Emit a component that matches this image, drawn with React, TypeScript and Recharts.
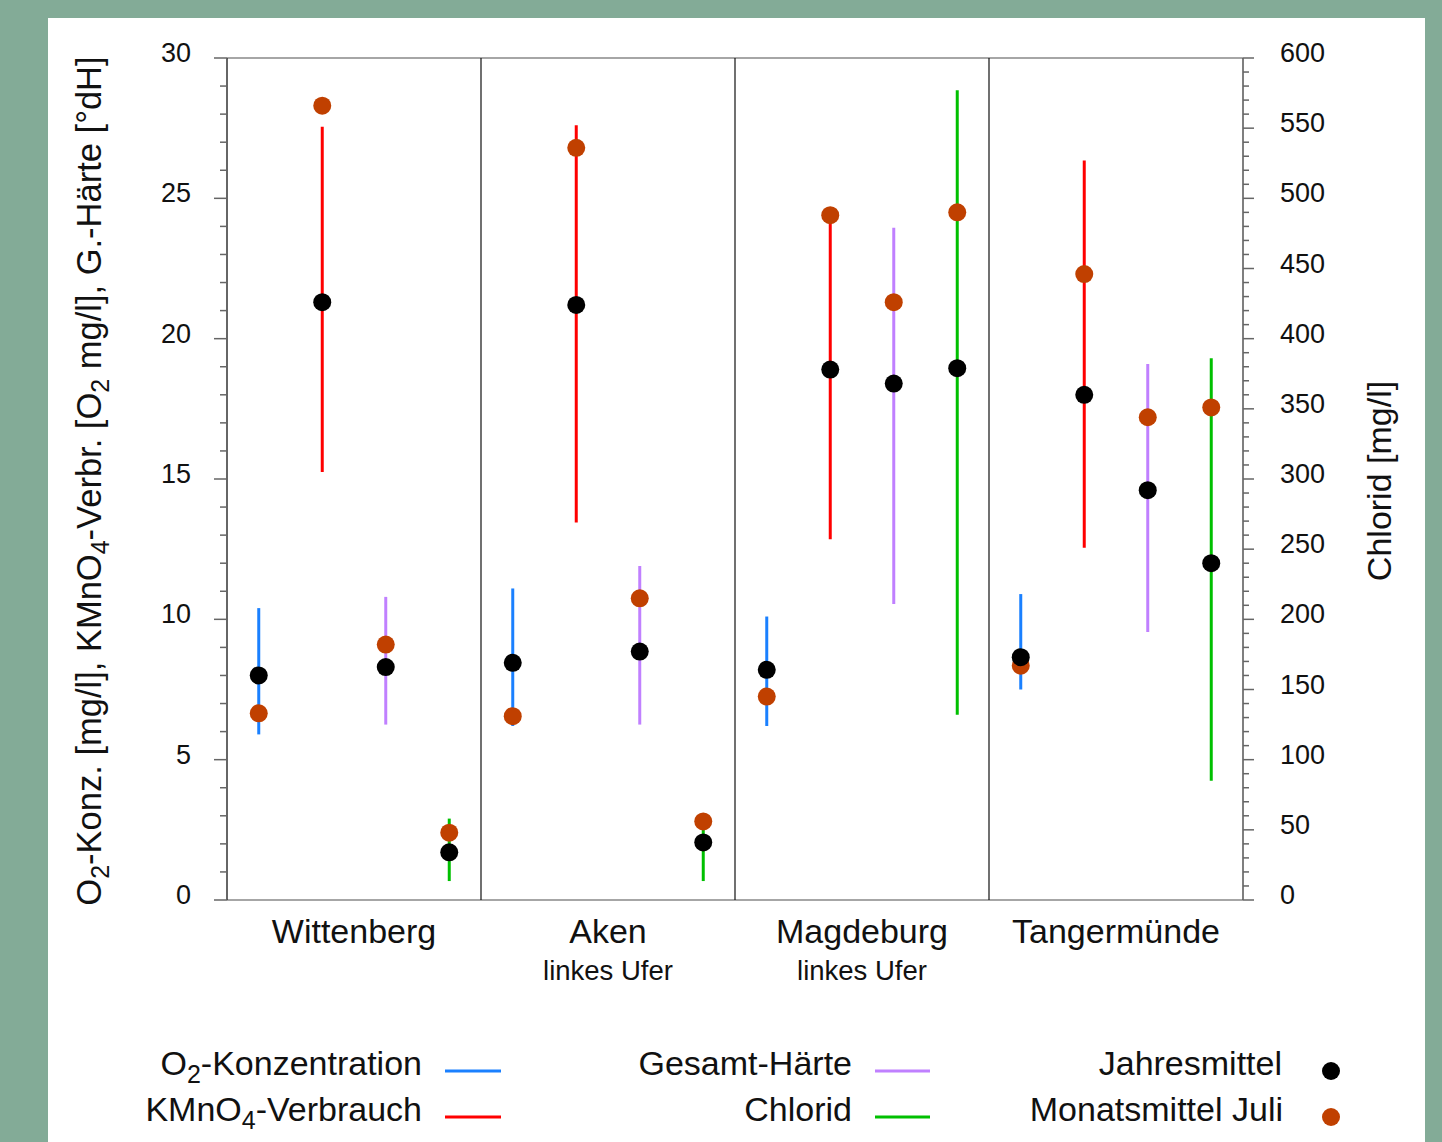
import React from 'react';
import { ComposedChart, Scatter, ErrorBar, XAxis, YAxis, ReferenceLine } from 'recharts';

const stations = ['Wittenberg', 'Aken', 'Magdeburg', 'Tangermünde'];
const stationNotes = ['', 'linkes Ufer', 'linkes Ufer', ''];

// O2-Konzentration [mg/l]
const o2Min = [5.9, 6.2, 6.2, 7.5];
const o2Max = [10.4, 11.1, 10.1, 10.9];
const o2Mean = [8.0, 8.45, 8.2, 8.65];
const o2July = [6.65, 6.55, 7.25, 8.35];

// KMnO4-Verbrauch [O2 mg/l]
const kmnMin = [15.25, 13.45, 12.85, 12.55];
const kmnMax = [27.55, 27.6, 24.65, 26.35];
const kmnMean = [21.3, 21.2, 18.9, 18.0];
const kmnJuly = [28.3, 26.8, 24.4, 22.3];

// Gesamt-Härte [°dH]
const hMin = [6.25, 6.25, 10.55, 9.55];
const hMax = [10.8, 11.9, 23.95, 19.1];
const hMean = [8.3, 8.85, 18.4, 14.6];
const hJuly = [9.1, 10.75, 21.3, 17.2];

// Chlorid [mg/l] (rechte Achse)
const clMin = [13.5, 13.5, 132, 85];
const clMax = [58, 57, 577, 386];
const clMean = [34, 41, 379, 240];
const clJuly = [48, 56, 490, 351];

const leftTicks = Array.from({ length: 31 }, (_, i) => i);
const rightTicks = Array.from({ length: 61 }, (_, i) => i * 10);
const stationTicks = [2, 6, 10, 14];

const FONT = '"Liberation Sans", Arial, sans-serif';
const BLUE = '#1a80ff';
const RED = '#ff0000';
const PURPLE = '#c080ff';
const GREEN = '#00c000';
const ORANGE = '#c04000';

const rangeData = (slot: number, min: number[], max: number[], mean: number[]) =>
  stations.map((_, i) => ({ x: i * 4 + slot + 0.5, v: mean[i], err: [mean[i] - min[i], max[i] - mean[i]] }));

const pointData = (slot: number, vals: number[]) =>
  stations.map((_, i) => ({ x: i * 4 + slot + 0.5, v: vals[i] }));

const series = [
  { slot: 0, color: BLUE, axis: 'left', min: o2Min, max: o2Max, mean: o2Mean, july: o2July },
  { slot: 1, color: RED, axis: 'left', min: kmnMin, max: kmnMax, mean: kmnMean, july: kmnJuly },
  { slot: 2, color: PURPLE, axis: 'left', min: hMin, max: hMax, mean: hMean, july: hJuly },
  { slot: 3, color: GREEN, axis: 'right', min: clMin, max: clMax, mean: clMean, july: clJuly },
];

const Dot = (color: string) => (p: any) => <circle cx={p.cx} cy={p.cy} r={9} fill={color} />;

const LeftTick = (props: any) => {
  const { x, y, payload } = props;
  const major = payload.value % 5 === 0;
  return (
    <g>
      <line x1={x} x2={x - (major ? 13 : 7)} y1={y} y2={y} stroke="#666" strokeWidth={1.5} />
      {major && (
        <text x={x - 36} y={y + 4} textAnchor="end" fontSize={27} fontFamily={FONT} fill="#111">
          {payload.value}
        </text>
      )}
    </g>
  );
};

const RightTick = (props: any) => {
  const { x, y, payload } = props;
  const major = payload.value % 50 === 0;
  return (
    <g>
      <line x1={x} x2={x + (major ? 11 : 6)} y1={y} y2={y} stroke="#666" strokeWidth={1.5} />
      {major && (
        <text x={x + 37} y={y + 4} textAnchor="start" fontSize={27} fontFamily={FONT} fill="#111">
          {payload.value}
        </text>
      )}
    </g>
  );
};

const StationTick = (props: any) => {
  const { x, y, index } = props;
  return (
    <g>
      <text x={x} y={y + 43} textAnchor="middle" fontSize={34} fontFamily={FONT} fill="#111">
        {stations[index]}
      </text>
      {stationNotes[index] && (
        <text x={x} y={y + 80} textAnchor="middle" fontSize={27.5} fontFamily={FONT} fill="#111">
          {stationNotes[index]}
        </text>
      )}
    </g>
  );
};

export default function App() {
  return (
    <div style={{ position: 'absolute', left: 0, top: 0, width: 1442, height: 1142, background: '#83ab97', overflow: 'hidden' }}>
      <div style={{ position: 'absolute', left: 48, top: 18, width: 1377, height: 1130, background: '#fff' }} />
      <div style={{ position: 'absolute', left: 0, top: 0 }}>
        <ComposedChart width={1442} height={1000} margin={{ top: 58, right: 99, left: 147, bottom: 0 }}>
          <XAxis
            xAxisId="x"
            type="number"
            dataKey="x"
            domain={[0, 16]}
            allowDataOverflow
            ticks={stationTicks}
            interval={0}
            height={100}
            tickSize={0}
            tickMargin={0}
            tickLine={false}
            axisLine={false}
            tick={<StationTick />}
          />
          <YAxis
            yAxisId="left"
            orientation="left"
            type="number"
            domain={[0, 30]}
            allowDataOverflow
            ticks={leftTicks}
            interval={0}
            width={80}
            tickSize={0}
            tickMargin={0}
            tickLine={false}
            axisLine={{ stroke: '#333', strokeWidth: 1.5 }}
            tick={<LeftTick />}
          />
          <YAxis
            yAxisId="right"
            orientation="right"
            type="number"
            domain={[0, 600]}
            allowDataOverflow
            ticks={rightTicks}
            interval={0}
            width={100}
            tickSize={0}
            tickMargin={0}
            tickLine={false}
            axisLine={{ stroke: '#555', strokeWidth: 1.5 }}
            tick={<RightTick />}
          />
          <ReferenceLine xAxisId="x" yAxisId="left" y={30} stroke="#888" strokeWidth={1.5} />
          <ReferenceLine xAxisId="x" yAxisId="left" y={0} stroke="#888" strokeWidth={1.5} />
          {[4, 8, 12].map((v) => (
            <ReferenceLine key={v} xAxisId="x" yAxisId="left" x={v} stroke="#111" strokeWidth={1.2} />
          ))}
          {series.map((s) => (
            <Scatter
              key={'r' + s.slot}
              xAxisId="x"
              yAxisId={s.axis}
              data={rangeData(s.slot, s.min, s.max, s.mean)}
              dataKey="v"
              shape={() => <g />}
              isAnimationActive={false}
            >
              <ErrorBar dataKey="err" direction="y" width={0} stroke={s.color} strokeWidth={3} isAnimationActive={false} />
            </Scatter>
          ))}
          {series.map((s) => (
            <Scatter
              key={'j' + s.slot}
              xAxisId="x"
              yAxisId={s.axis}
              data={pointData(s.slot, s.july)}
              dataKey="v"
              shape={Dot(ORANGE)}
              isAnimationActive={false}
            />
          ))}
          {series.map((s) => (
            <Scatter
              key={'m' + s.slot}
              xAxisId="x"
              yAxisId={s.axis}
              data={pointData(s.slot, s.mean)}
              dataKey="v"
              shape={Dot('#000')}
              isAnimationActive={false}
            />
          ))}
        </ComposedChart>
      </div>
      <svg width={1442} height={1142} style={{ position: 'absolute', left: 0, top: 0, pointerEvents: 'none' }} fontFamily={FONT} fill="#111">
        <text transform="translate(101,481) rotate(-90)" textAnchor="middle" fontSize={34.5}>
          <tspan>O</tspan>
          <tspan dy={8} fontSize={25}>2</tspan>
          <tspan dy={-8}>-Konz. [mg/l], KMnO</tspan>
          <tspan dy={8} fontSize={25}>4</tspan>
          <tspan dy={-8}>-Verbr. [O</tspan>
          <tspan dy={8} fontSize={25}>2</tspan>
          <tspan dy={-8}> mg/l], G.-Härte [°dH]</tspan>
        </text>
        <text transform="translate(1391,481) rotate(-90)" textAnchor="middle" fontSize={34}>
          Chlorid [mg/l]
        </text>

        <text x={422} y={1075} textAnchor="end" fontSize={34}>
          <tspan>O</tspan>
          <tspan dy={8} fontSize={25}>2</tspan>
          <tspan dy={-8}>-Konzentration</tspan>
        </text>
        <line x1={445} x2={501} y1={1071} y2={1071} stroke={BLUE} strokeWidth={3} />
        <text x={422} y={1121} textAnchor="end" fontSize={34}>
          <tspan>KMnO</tspan>
          <tspan dy={8} fontSize={25}>4</tspan>
          <tspan dy={-8}>-Verbrauch</tspan>
        </text>
        <line x1={445} x2={501} y1={1117} y2={1117} stroke={RED} strokeWidth={3} />

        <text x={852} y={1075} textAnchor="end" fontSize={34}>Gesamt-Härte</text>
        <line x1={875} x2={930} y1={1071} y2={1071} stroke={PURPLE} strokeWidth={3} />
        <text x={852} y={1121} textAnchor="end" fontSize={34}>Chlorid</text>
        <line x1={875} x2={930} y1={1117} y2={1117} stroke={GREEN} strokeWidth={3} />

        <text x={1282} y={1075} textAnchor="end" fontSize={34}>Jahresmittel</text>
        <circle cx={1331} cy={1071} r={9} fill="#000" />
        <text x={1283} y={1121} textAnchor="end" fontSize={34}>Monatsmittel Juli</text>
        <circle cx={1331} cy={1117} r={9} fill={ORANGE} />
      </svg>
    </div>
  );
}
